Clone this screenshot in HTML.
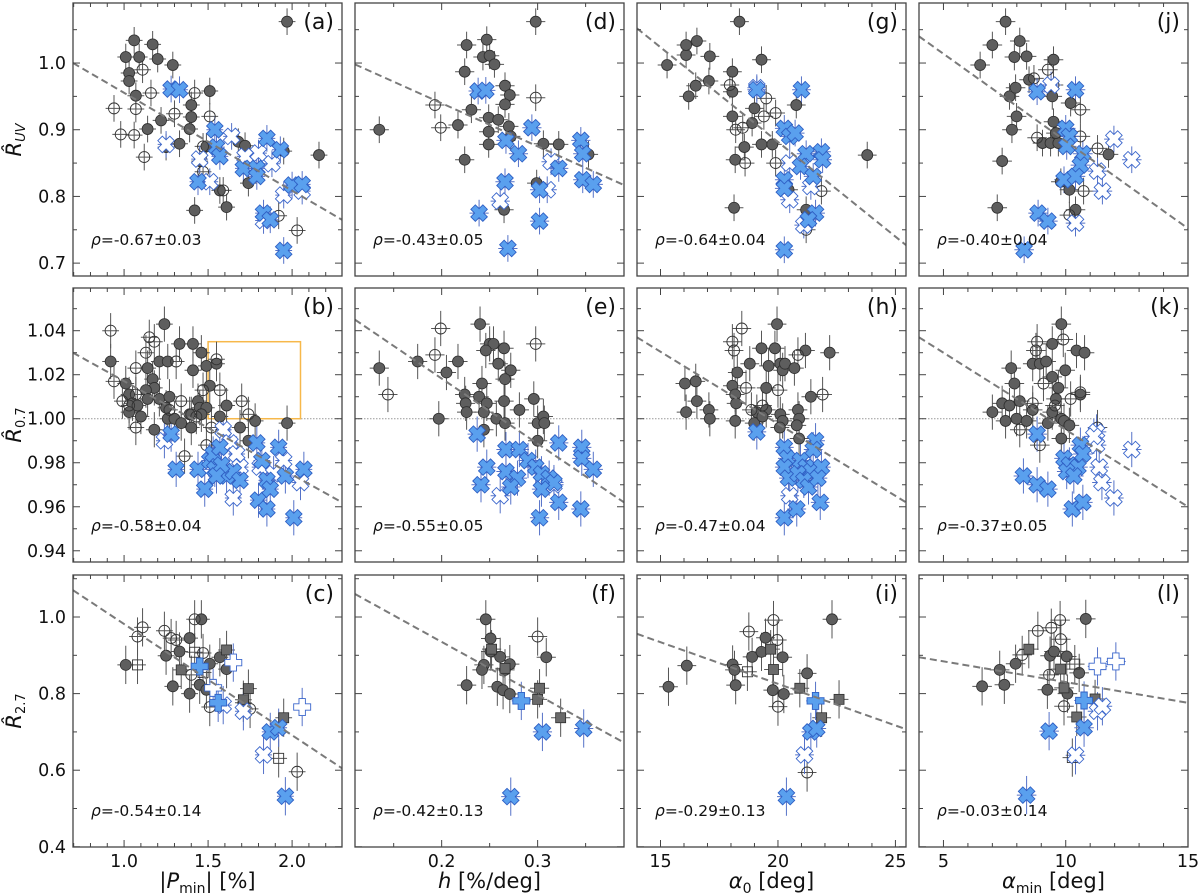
<!DOCTYPE html>
<html><head><meta charset="utf-8"><style>
html,body{margin:0;padding:0;background:#fff;}
svg{display:block;font-family:"DejaVu Sans","Liberation Sans",sans-serif;}
</style></head><body>
<svg id="fig" width="1200" height="894" viewBox="0 0 1200 894" xmlns="http://www.w3.org/2000/svg"></svg>
<script>
// ---------- data ----------
const ptsA=[[1.97,1.062,'gc'],[1.06,1.034,'gc'],[1.17,1.028,'gc'],[1.01,1.009,'gc'],[1.09,1.009,'gc'],[1.20,1.006,'gc'],[1.29,0.997,'gc'],[1.03,0.985,'gc'],[1.03,0.973,'gc'],[1.51,0.958,'gc'],[1.07,0.951,'gc'],[1.14,0.901,'gc'],[1.22,0.914,'gc'],[1.25,0.874,'gc'],[1.33,0.879,'gc'],[1.39,0.901,'gc'],[1.40,0.919,'gc'],[1.49,0.875,'gc'],[1.45,0.853,'gc'],[1.57,0.809,'gc'],[1.61,0.784,'gc'],[1.42,0.779,'gc'],[1.68,0.882,'gc'],[1.72,0.876,'gc'],[1.74,0.82,'gc'],[1.95,0.868,'gc'],[2.16,0.862,'gc'],[1.40,0.937,'gc'],
[0.94,0.932,'oc'],[0.98,0.893,'oc'],[1.06,0.892,'oc'],[1.12,0.859,'oc'],[1.11,0.990,'oc'],[1.07,0.931,'oc'],[1.16,0.955,'oc'],[1.30,0.924,'oc'],[1.42,0.955,'oc'],[1.51,0.920,'oc'],[1.47,0.875,'oc'],[1.92,0.771,'oc'],[2.03,0.749,'oc'],[1.47,0.837,'oc'],[1.59,0.809,'oc'],
[1.25,0.878,'ox'],[1.45,0.856,'ox'],[1.51,0.822,'ox'],[1.64,0.89,'ox'],[1.72,0.860,'ox'],[1.80,0.865,'ox'],[1.88,0.849,'ox'],[1.95,0.802,'ox'],[1.83,0.764,'ox'],[2.06,0.808,'ox'],
[1.28,0.961,'bx'],[1.33,0.96,'bx'],[1.54,0.900,'bx'],[1.55,0.874,'bx'],[1.57,0.86,'bx'],[1.44,0.822,'bx'],[1.85,0.887,'bx'],[1.93,0.870,'bx'],[1.71,0.842,'bx'],[1.79,0.842,'bx'],[1.79,0.83,'bx'],[1.83,0.775,'bx'],[1.87,0.765,'bx'],[1.95,0.719,'bx'],[2.0,0.817,'bx'],[2.06,0.818,'bx']];
const ptsD=[[0.135,0.90,'gc'],[0.298,1.062,'gc'],[0.226,1.027,'gc'],[0.247,1.035,'gc'],[0.243,1.009,'gc'],[0.25,1.011,'gc'],[0.255,0.998,'gc'],[0.224,0.987,'gc'],[0.266,0.966,'gc'],[0.271,0.952,'gc'],[0.266,0.938,'gc'],[0.231,0.93,'gc'],[0.217,0.907,'gc'],[0.249,0.918,'gc'],[0.259,0.915,'gc'],[0.27,0.905,'gc'],[0.272,0.89,'gc'],[0.249,0.897,'gc'],[0.249,0.878,'gc'],[0.224,0.855,'gc'],[0.306,0.879,'gc'],[0.322,0.878,'gc'],[0.353,0.863,'gc'],[0.299,0.82,'gc'],[0.265,0.78,'gc'],
[0.193,0.937,'oc'],[0.199,0.903,'oc'],[0.298,0.948,'oc'],
[0.314,0.852,'ox'],[0.261,0.793,'ox'],[0.31,0.81,'ox'],
[0.238,0.958,'bx'],[0.246,0.959,'bx'],[0.294,0.903,'bx'],[0.267,0.884,'bx'],[0.28,0.864,'bx'],[0.345,0.884,'bx'],[0.347,0.864,'bx'],[0.322,0.842,'bx'],[0.347,0.825,'bx'],[0.358,0.818,'bx'],[0.266,0.822,'bx'],[0.302,0.81,'bx'],[0.239,0.775,'bx'],[0.302,0.763,'bx'],[0.269,0.722,'bx']];
const ptsG=[[15.28,0.997,'gc'],[16.09,1.012,'gc'],[16.09,1.027,'gc'],[16.55,1.033,'gc'],[17.1,1.01,'gc'],[18.36,1.062,'gc'],[16.5,0.966,'gc'],[17.06,0.973,'gc'],[16.2,0.95,'gc'],[18.06,0.987,'gc'],[18.06,0.957,'gc'],[19.3,1.005,'gc'],[18.06,0.92,'gc'],[18.9,0.91,'gc'],[19.0,0.932,'gc'],[20.78,0.937,'gc'],[18.57,0.874,'gc'],[18.18,0.855,'gc'],[19.3,0.878,'gc'],[19.76,0.878,'gc'],[18.13,0.783,'gc'],[23.8,0.862,'gc'],[21.2,0.78,'gc'],[20.45,0.81,'gc'],
[18.2,0.9,'oc'],[18.5,0.903,'oc'],[19.4,0.92,'oc'],[19.5,0.947,'oc'],[19.9,0.925,'oc'],[19.9,0.85,'oc'],[18.6,0.85,'oc'],[21.85,0.808,'oc'],[21.2,0.75,'oc'],[17.95,0.967,'oc'],
[19.1,0.963,'ox'],[20.5,0.795,'ox'],[21.1,0.757,'ox'],[21.4,0.815,'ox'],[20.5,0.85,'ox'],
[19.1,0.96,'bx'],[21.0,0.96,'bx'],[20.27,0.902,'bx'],[20.5,0.89,'bx'],[20.73,0.895,'bx'],[21.2,0.864,'bx'],[21.85,0.867,'bx'],[21.9,0.855,'bx'],[20.96,0.845,'bx'],[20.27,0.825,'bx'],[20.27,0.812,'bx'],[21.5,0.83,'bx'],[21.6,0.775,'bx'],[21.3,0.765,'bx'],[20.27,0.72,'bx']];
const ptsJ=[[6.5,0.997,'gc'],[7.0,1.027,'gc'],[7.54,1.062,'gc'],[8.12,1.033,'gc'],[7.9,1.009,'gc'],[8.4,1.01,'gc'],[9.5,1.005,'gc'],[7.4,0.853,'gc'],[7.8,0.9,'gc'],[7.2,0.783,'gc'],[7.7,0.95,'gc'],[7.95,0.963,'gc'],[8.5,0.975,'gc'],[7.99,0.92,'gc'],[9.45,0.95,'gc'],[10.2,0.94,'gc'],[9.05,0.88,'gc'],[9.38,0.88,'gc'],[9.7,0.88,'gc'],[9.5,0.912,'gc'],[9.6,0.895,'gc'],[10.15,0.81,'gc'],[10.4,0.78,'gc'],[11.75,0.863,'gc'],[9.8,0.822,'gc'],
[9.27,0.99,'oc'],[9.5,0.967,'oc'],[8.7,0.977,'oc'],[10.6,0.93,'oc'],[8.83,0.888,'oc'],[10.73,0.808,'oc'],[10.15,0.772,'oc'],[10.6,0.89,'oc'],[11.3,0.872,'oc'],
[11.97,0.886,'ox'],[12.7,0.855,'ox'],[11.3,0.838,'ox'],[11.5,0.808,'ox'],[10.4,0.76,'ox'],[9.4,0.967,'ox'],
[8.83,0.957,'bx'],[10.4,0.96,'bx'],[10.0,0.902,'bx'],[10.15,0.89,'bx'],[10.04,0.875,'bx'],[10.7,0.864,'bx'],[10.6,0.847,'bx'],[9.93,0.825,'bx'],[10.4,0.83,'bx'],[8.87,0.775,'bx'],[9.27,0.763,'bx'],[8.3,0.72,'bx']];
const ptsB=[[0.92,1.026,'gc'],[1.01,1.016,'gc'],[1.03,1.011,'gc'],[1.05,1.007,'gc'],[1.03,1.003,'gc'],[1.08,1.006,'gc'],[1.1,1.001,'gc'],[1.14,1.023,'gc'],[1.17,1.018,'gc'],[1.18,1.014,'gc'],[1.21,1.026,'gc'],[1.26,1.026,'gc'],[1.24,1.043,'gc'],[1.21,1.009,'gc'],[1.27,1.01,'gc'],[1.25,1.005,'gc'],[1.18,0.995,'gc'],[1.26,1.0,'gc'],[1.3,1.0,'gc'],[1.33,1.034,'gc'],[1.34,0.998,'gc'],[1.41,1.034,'gc'],[1.41,1.022,'gc'],[1.46,1.03,'gc'],[1.39,1.002,'gc'],[1.40,0.996,'gc'],[1.44,1.008,'gc'],[1.45,1.005,'gc'],[1.49,1.024,'gc'],[1.51,1.015,'gc'],[1.55,1.025,'gc'],[1.57,1.001,'gc'],[1.61,1.006,'gc'],[1.69,0.996,'gc'],[1.78,0.999,'gc'],[1.74,0.99,'gc'],[1.97,0.998,'gc'],[1.49,1.005,'gc'],[1.46,1.002,'gc'],[1.13,1.013,'gc'],[1.14,1.009,'gc'],
[0.92,1.04,'oc'],[0.94,1.017,'oc'],[0.99,1.008,'oc'],[1.03,1.006,'oc'],[1.07,0.996,'oc'],[1.07,1.011,'oc'],[1.07,1.023,'oc'],[1.13,1.03,'oc'],[1.15,1.037,'oc'],[1.18,1.035,'oc'],[1.31,1.026,'oc'],[1.34,1.008,'oc'],[1.27,1.004,'oc'],[1.40,1.002,'oc'],[1.43,1.001,'oc'],[1.47,1.013,'oc'],[1.49,0.988,'oc'],[1.36,0.983,'oc'],[1.55,1.027,'oc'],[1.52,0.996,'oc'],[1.70,1.008,'oc'],[1.74,1.002,'oc'],[1.57,1.013,'oc'],
[1.24,0.99,'ox'],[1.59,0.995,'ox'],[1.63,0.989,'ox'],[1.67,0.984,'ox'],[1.69,0.978,'ox'],[1.65,0.964,'ox'],[1.81,0.978,'ox'],[1.95,0.981,'ox'],[2.05,0.971,'ox'],[1.89,0.975,'ox'],
[1.28,0.993,'bx'],[1.31,0.977,'bx'],[1.44,0.977,'bx'],[1.48,0.968,'bx'],[1.51,0.981,'bx'],[1.53,0.984,'bx'],[1.54,0.977,'bx'],[1.57,0.987,'bx'],[1.61,0.974,'bx'],[1.65,0.976,'bx'],[1.69,0.972,'bx'],[1.58,0.979,'bx'],[1.55,0.974,'bx'],[1.79,0.989,'bx'],[1.82,0.981,'bx'],[1.85,0.972,'bx'],[1.92,0.987,'bx'],[1.96,0.974,'bx'],[2.07,0.977,'bx'],[1.80,0.963,'bx'],[1.85,0.959,'bx'],[1.87,0.968,'bx'],[2.01,0.955,'bx']];
const ptsE=[[0.135,1.023,'gc'],[0.175,1.026,'gc'],[0.205,1.021,'gc'],[0.217,1.026,'gc'],[0.24,1.043,'gc'],[0.25,1.034,'gc'],[0.254,1.034,'gc'],[0.246,1.031,'gc'],[0.265,1.032,'gc'],[0.259,1.025,'gc'],[0.272,1.022,'gc'],[0.266,1.018,'gc'],[0.242,1.016,'gc'],[0.224,1.011,'gc'],[0.225,1.007,'gc'],[0.226,1.003,'gc'],[0.239,1.01,'gc'],[0.247,1.007,'gc'],[0.244,1.003,'gc'],[0.265,1.008,'gc'],[0.281,1.004,'gc'],[0.296,1.009,'gc'],[0.257,1.0,'gc'],[0.266,0.998,'gc'],[0.197,1.0,'gc'],[0.244,0.995,'gc'],[0.3,0.998,'gc'],[0.306,1.001,'gc'],[0.307,0.998,'gc'],[0.3,0.99,'gc'],
[0.144,1.011,'oc'],[0.193,1.029,'oc'],[0.199,1.041,'oc'],[0.298,1.034,'oc'],
[0.261,0.965,'ox'],[0.317,0.97,'ox'],
[0.237,0.993,'bx'],[0.267,0.986,'bx'],[0.281,0.986,'bx'],[0.322,0.989,'bx'],[0.346,0.987,'bx'],[0.346,0.982,'bx'],[0.247,0.978,'bx'],[0.358,0.977,'bx'],[0.267,0.976,'bx'],[0.279,0.973,'bx'],[0.29,0.981,'bx'],[0.298,0.978,'bx'],[0.304,0.975,'bx'],[0.312,0.973,'bx'],[0.317,0.971,'bx'],[0.241,0.97,'bx'],[0.272,0.969,'bx'],[0.304,0.968,'bx'],[0.322,0.962,'bx'],[0.345,0.959,'bx'],[0.302,0.955,'bx']];
const ptsH=[[16.04,1.016,'gc'],[16.09,1.003,'gc'],[16.55,1.008,'gc'],[16.5,1.017,'gc'],[17.06,1.004,'gc'],[17.1,1.0,'gc'],[18.06,1.015,'gc'],[18.18,1.011,'gc'],[18.22,1.007,'gc'],[18.18,0.999,'gc'],[18.27,1.021,'gc'],[18.8,1.025,'gc'],[19.3,1.032,'gc'],[19.87,1.032,'gc'],[19.96,1.043,'gc'],[19.6,1.024,'gc'],[20.1,1.025,'gc'],[20.2,1.022,'gc'],[20.3,1.025,'gc'],[20.7,1.023,'gc'],[21.17,1.031,'gc'],[22.2,1.030,'gc'],[19.5,1.014,'gc'],[19.1,1.003,'gc'],[19.5,1.004,'gc'],[18.99,0.998,'gc'],[19.34,1.001,'gc'],[20.1,1.002,'gc'],[20.2,0.999,'gc'],[20.08,0.996,'gc'],[20.85,1.004,'gc'],[20.9,1.0,'gc'],[20.8,0.997,'gc'],[20.9,0.991,'gc'],[21.4,1.01,'gc'],
[18.46,1.041,'oc'],[18.06,1.035,'oc'],[18.13,1.031,'oc'],[18.64,1.014,'oc'],[19.34,1.006,'oc'],[20.0,1.013,'oc'],[20.85,1.029,'oc'],[21.9,1.011,'oc'],[18.87,1.004,'oc'],
[20.5,0.965,'ox'],
[19.1,0.994,'bx'],[20.27,0.987,'bx'],[20.4,0.982,'bx'],[20.27,0.978,'bx'],[20.45,0.973,'bx'],[20.27,0.955,'bx'],[21.6,0.99,'bx'],[21.5,0.986,'bx'],[20.96,0.981,'bx'],[21.2,0.978,'bx'],[21.4,0.976,'bx'],[21.85,0.978,'bx'],[20.85,0.975,'bx'],[21.1,0.972,'bx'],[21.3,0.969,'bx'],[21.7,0.973,'bx'],[20.8,0.959,'bx'],[21.8,0.962,'bx']];
const ptsK=[[7.0,1.003,'gc'],[7.4,1.007,'gc'],[7.7,1.006,'gc'],[7.54,0.999,'gc'],[7.77,1.023,'gc'],[7.9,1.016,'gc'],[8.12,1.008,'gc'],[7.99,1.0,'gc'],[8.4,0.999,'gc'],[8.65,1.004,'gc'],[8.65,1.025,'gc'],[8.94,1.025,'gc'],[9.2,1.026,'gc'],[9.45,1.034,'gc'],[9.82,1.043,'gc'],[9.98,1.022,'gc'],[10.44,1.031,'gc'],[10.77,1.03,'gc'],[9.45,1.019,'gc'],[9.7,1.014,'gc'],[9.6,1.009,'gc'],[9.45,1.003,'gc'],[9.82,1.0,'gc'],[9.27,0.998,'gc'],[9.93,0.999,'gc'],[10.15,0.997,'gc'],[9.82,0.991,'gc'],[10.6,1.011,'gc'],
[8.83,1.035,'oc'],[8.78,1.031,'oc'],[9.9,1.036,'oc'],[9.09,1.016,'oc'],[8.65,1.007,'oc'],[9.56,1.006,'oc'],[10.2,1.009,'oc'],[10.6,1.012,'oc'],[8.12,0.995,'oc'],[8.94,0.988,'oc'],[11.3,0.996,'oc'],
[11.26,0.994,'ox'],[11.26,0.988,'ox'],[12.7,0.986,'ox'],[11.37,0.978,'ox'],[11.48,0.971,'ox'],[11.97,0.964,'ox'],[11.15,0.992,'ox'],
[8.83,0.993,'bx'],[8.27,0.974,'bx'],[8.83,0.97,'bx'],[9.27,0.968,'bx'],[9.93,0.982,'bx'],[10.15,0.979,'bx'],[10.5,0.978,'bx'],[10.04,0.976,'bx'],[10.33,0.974,'bx'],[10.6,0.988,'bx'],[10.7,0.984,'bx'],[10.27,0.959,'bx'],[10.7,0.962,'bx']];
const ptsC=[[1.01,0.875,'gc'],[1.25,0.899,'gc'],[1.29,0.819,'gc'],[1.33,0.91,'gc'],[1.39,0.945,'gc'],[1.39,0.80,'gc'],[1.46,0.994,'gc'],[1.45,0.823,'gc'],[1.49,0.81,'gc'],[1.51,0.878,'gc'],[1.57,0.895,'gc'],[1.61,0.864,'gc'],
[1.08,0.949,'oc'],[1.11,0.973,'oc'],[1.24,0.964,'oc'],[1.28,0.945,'oc'],[1.31,0.94,'oc'],[1.42,0.994,'oc'],[1.40,0.849,'oc'],[1.47,0.906,'oc'],[1.51,0.765,'oc'],[1.71,0.776,'oc'],[1.75,0.76,'oc'],[2.03,0.596,'oc'],
[1.34,0.862,'gs'],[1.61,0.914,'gs'],[1.74,0.813,'gs'],[1.71,0.784,'gs'],[1.95,0.737,'gs'],
[1.08,0.875,'os'],[1.42,0.908,'os'],[1.47,0.855,'os'],[1.92,0.631,'os'],
[1.65,0.881,'op'],[2.06,0.765,'op'],[1.53,0.815,'op'],
[1.59,0.77,'ox'],[1.71,0.754,'ox'],[1.83,0.64,'ox'],
[1.56,0.776,'bp'],[1.45,0.871,'bp'],
[1.87,0.70,'bx'],[1.92,0.711,'bx'],[1.96,0.532,'bx']];
const ptsF=[[0.246,0.994,'gc'],[0.251,0.944,'gc'],[0.251,0.91,'gc'],[0.261,0.896,'gc'],[0.271,0.877,'gc'],[0.244,0.875,'gc'],[0.242,0.862,'gc'],[0.226,0.822,'gc'],[0.258,0.818,'gc'],[0.264,0.809,'gc'],[0.271,0.799,'gc'],[0.309,0.895,'gc'],[0.266,0.862,'gc'],
[0.3,0.949,'oc'],
[0.252,0.916,'gs'],[0.266,0.866,'gs'],[0.302,0.814,'gs'],[0.3,0.785,'gs'],[0.324,0.737,'gs'],
[0.283,0.781,'bp'],
[0.305,0.70,'bx'],[0.348,0.709,'bx'],[0.272,0.531,'bx']];
const ptsI=[[15.34,0.818,'gc'],[16.12,0.873,'gc'],[18.07,0.876,'gc'],[18.15,0.862,'gc'],[18.2,0.822,'gc'],[18.9,0.896,'gc'],[19.3,0.909,'gc'],[19.47,0.946,'gc'],[20.2,0.895,'gc'],[19.78,0.809,'gc'],[20.25,0.799,'gc'],[21.24,0.853,'gc'],[22.3,0.994,'gc'],
[18.76,0.962,'oc'],[19.81,0.992,'oc'],[19.97,0.94,'oc'],[20.0,0.766,'oc'],[21.24,0.594,'oc'],
[19.69,0.916,'gs'],[19.81,0.863,'gs'],[20.93,0.814,'gs'],[22.6,0.785,'gs'],[21.86,0.737,'gs'],
[18.7,0.857,'os'],
[21.13,0.64,'ox'],
[21.6,0.781,'bp'],
[21.4,0.70,'bx'],[21.65,0.709,'bx'],[20.36,0.531,'bx']];
const ptsL=[[6.58,0.819,'gc'],[7.3,0.862,'gc'],[7.49,0.823,'gc'],[7.95,0.878,'gc'],[9.25,0.81,'gc'],[9.36,0.899,'gc'],[9.52,0.91,'gc'],[10.04,0.897,'gc'],[10.55,0.854,'gc'],[10.82,0.995,'gc'],[10.07,0.80,'gc'],
[8.86,0.964,'oc'],[9.41,0.972,'oc'],[8.22,0.901,'oc'],[9.77,0.992,'oc'],[9.8,0.942,'oc'],[9.32,0.849,'oc'],[9.93,0.767,'oc'],
[8.49,0.916,'gs'],[9.79,0.864,'gs'],[9.93,0.815,'gs'],[10.45,0.739,'gs'],[11.2,0.786,'gs'],
[10.37,0.877,'os'],[10.27,0.633,'os'],
[11.3,0.754,'ox'],[11.5,0.767,'ox'],[10.4,0.639,'ox'],
[11.3,0.871,'op'],[12.05,0.884,'op'],
[10.75,0.782,'bp'],
[9.32,0.702,'bx'],[10.75,0.711,'bx'],[8.4,0.535,'bx']];
// fit lines: value at left and right x-domain edge
const fitA=[1.0,0.765], fitB=[1.030,0.962], fitC=[1.07,0.605];
const fitD=[0.998,0.817], fitE=[1.045,0.962], fitF=[1.06,0.672];
const fitG=[1.052,0.727], fitH=[1.037,0.962], fitI=[0.956,0.707];
const fitJ=[1.04,0.752], fitK=[1.037,0.960], fitL=[0.895,0.776];
const rhoLabels=[["-0.67±0.03","-0.58±0.04","-0.54±0.14"],["-0.43±0.05","-0.55±0.05","-0.42±0.13"],["-0.64±0.04","-0.47±0.04","-0.29±0.13"],["-0.40±0.04","-0.37±0.05","-0.03±0.14"]];
const letters=[["(a)","(b)","(c)"],["(d)","(e)","(f)"],["(g)","(h)","(i)"],["(j)","(k)","(l)"]];
const rowYMajor=[[0.7,0.8,0.9,1.0],[0.94,0.96,0.98,1.00,1.02,1.04],[0.4,0.6,0.8,1.0]];
const rowYLabels=[["0.7","0.8","0.9","1.0"],["0.94","0.96","0.98","1.00","1.02","1.04"],["0.4","0.6","0.8","1.0"]];
const colXMajor=[[1.0,1.5,2.0],[0.2,0.3],[15,20,25],[5,10,15]];
const colXLabels=[["1.0","1.5","2.0"],["0.2","0.3"],["15","20","25"],["5","10","15"]];

// ---------- layout ----------
const NS="http://www.w3.org/2000/svg";
const svg=document.getElementById('fig');
const colL=[73,355,637,919], PW=269;
const rowT=[3,288,575], rowB=[276,562,847];
const xDom=[[0.696,2.297],[0.1097,0.39],[14.0,25.45],[4.0,15.0]];
const yDom=[[0.6807,1.09],[0.9349,1.0594],[0.3995,1.1097]];
const yMinorStep=[0.05,0.01,0.1], xMinorStep=[0.1,0.05,1,1];
const xErr=[0.05,0.01,0.4,0.4], yErr=[0.02,0.008,0.05];
const panels=[[ptsA,ptsB,ptsC],[ptsD,ptsE,ptsF],[ptsG,ptsH,ptsI],[ptsJ,ptsK,ptsL]];
const fits=[[fitA,fitB,fitC],[fitD,fitE,fitF],[fitG,fitH,fitI],[fitJ,fitK,fitL]];

function el(tag,attrs,parent){const e=document.createElementNS(NS,tag);for(const k in attrs)e.setAttribute(k,attrs[k]);(parent||svg).appendChild(e);return e;}
function plusPts(cx,cy,L,w,rot){
  const base=[[-w,-L],[w,-L],[w,-w],[L,-w],[L,w],[w,w],[w,L],[-w,L],[-w,w],[-L,w],[-L,-w],[-w,-w]];
  const c=Math.cos(rot),s=Math.sin(rot);
  return base.map(p=>(cx+p[0]*c-p[1]*s).toFixed(2)+','+(cy+p[0]*s+p[1]*c).toFixed(2)).join(' ');
}
const order={gc:0,oc:0,gs:0,os:0,ox:1,op:1,bx:2,bp:2};

for(let c=0;c<4;c++){for(let r=0;r<3;r++){
  const L=colL[c],R=L+PW,T=rowT[r],B=rowB[r];
  const xs=v=>L+(v-xDom[c][0])/(xDom[c][1]-xDom[c][0])*PW;
  const ys=v=>B-(v-yDom[r][0])/(yDom[r][1]-yDom[r][0])*(B-T);
  const g=el('g',{});
  
  
  const clipId='clip'+c+r;
  const cp=el('clipPath',{id:clipId},g);el('rect',{x:L,y:T,width:PW,height:B-T},cp);
  const inner=el('g',{'clip-path':'url(#'+clipId+')'},g);
  if(r===1){const ln=el('line',{x1:L,x2:R,y1:ys(1.0),y2:ys(1.0),stroke:'#999','stroke-width':1,'stroke-dasharray':'1.5,1.5'},inner);
    }
  if(c===0&&r===1){const bx=el('rect',{x:xs(1.5),y:ys(1.035),width:xs(2.05)-xs(1.5),height:ys(1.0)-ys(1.035),fill:'none',stroke:'#f7b84a','stroke-width':1.5},inner);
    }
  const pts=panels[c][r].slice().sort((a,b)=>order[a[2]]-order[b[2]]);
  const xe=xErr[c], ye=yErr[r];
  pts.forEach(p=>{const blue=order[p[2]]>0;const col=blue?'#5572c8':'#555';
    el('line',{x1:xs(p[0]-xe),x2:xs(p[0]+xe),y1:ys(p[1]),y2:ys(p[1]),stroke:col,'stroke-width':1},inner);
    el('line',{x1:xs(p[0]),x2:xs(p[0]),y1:ys(p[1]-ye),y2:ys(p[1]+ye),stroke:col,'stroke-width':1},inner);});
  pts.forEach(p=>{const cx=xs(p[0]),cy=ys(p[1]),t=p[2];let m;
    if(t==='gc')m=el('circle',{cx,cy,r:5.5,fill:'#5e5e5e',stroke:'#2e2e2e','stroke-width':0.8},inner);
    else if(t==='oc')m=el('circle',{cx,cy,r:5.5,fill:'none',stroke:'#333','stroke-width':0.9},inner);
    else if(t==='gs')m=el('rect',{x:cx-5,y:cy-5,width:10,height:10,fill:'#6a6a6a',stroke:'#2e2e2e','stroke-width':0.8},inner);
    else if(t==='os')m=el('rect',{x:cx-5,y:cy-5,width:10,height:10,fill:'none',stroke:'#333','stroke-width':0.9},inner);
    else if(t==='bx')m=el('polygon',{points:plusPts(cx,cy,8.5,3.2,Math.PI/4),fill:'#5aa0ee',stroke:'#2f5fc4','stroke-width':0.9},inner);
    else if(t==='ox')m=el('polygon',{points:plusPts(cx,cy,8.5,3.2,Math.PI/4),fill:'#fff',stroke:'#3a66cc','stroke-width':0.9},inner);
    else if(t==='bp')m=el('polygon',{points:plusPts(cx,cy,8.5,3.2,0),fill:'#5aa0ee',stroke:'#2f5fc4','stroke-width':0.9},inner);
    else m=el('polygon',{points:plusPts(cx,cy,8.5,3.2,0),fill:'#fff',stroke:'#3a66cc','stroke-width':0.9},inner);
    
    });
  const f=fits[c][r];
  const fl=el('line',{x1:L,y1:ys(f[0]),x2:R,y2:ys(f[1]),stroke:'#7a7a7a','stroke-width':2,'stroke-dasharray':'7,4'},inner);
  
  
  const fr=el('rect',{x:L,y:T,width:PW,height:B-T,fill:'none',stroke:'#444','stroke-width':1.3},g);
  
  
  const ys0=yDom[r][0],ys1=yDom[r][1],st=yMinorStep[r];
  for(let k=Math.ceil(ys0/st-1e-6);k*st<=ys1+1e-9;k++){const v=k*st;const y=ys(v);
    const major=rowYMajor[r].some(m=>Math.abs(m-v)<1e-6);const len=major?7:4;
    el('line',{x1:L,x2:L+len,y1:y,y2:y,stroke:'#444','stroke-width':1},g);
    el('line',{x1:R,x2:R-len,y1:y,y2:y,stroke:'#444','stroke-width':1},g);}
  const xst=xMinorStep[c];
  for(let k=Math.ceil(xDom[c][0]/xst-1e-6);k*xst<=xDom[c][1]+1e-9;k++){const v=k*xst;const x=xs(v);
    const major=colXMajor[c].some(m=>Math.abs(m-v)<1e-6);const len=major?7:4;
    el('line',{x1:x,x2:x,y1:B,y2:B-len,stroke:'#444','stroke-width':1},g);
    el('line',{x1:x,x2:x,y1:T,y2:T+len,stroke:'#444','stroke-width':1},g);}
  if(c===0){rowYMajor[r].forEach((v,i)=>{const t=el('text',{x:L-7,y:ys(v)+6,'text-anchor':'end','font-size':17.5,fill:'#111'},g);t.textContent=rowYLabels[r][i];
    });}
  if(r===2){colXMajor[c].forEach((v,i)=>{const t=el('text',{x:xs(v),y:B+20,'text-anchor':'middle','font-size':17.5,fill:'#111'},g);t.textContent=colXLabels[c][i];
    });}
  const lt=el('text',{x:R-8,y:T+26,'text-anchor':'end','font-size':22,fill:'#111'},g);lt.textContent=letters[c][r];
  
  const rt=el('text',{x:L+18,y:B-31,'font-size':15.5,fill:'#111'},g);
  
  const rs=el('tspan',{'font-style':'italic'},rt);rs.textContent='ρ';
  const rv=el('tspan',{},rt);rv.textContent='='+rhoLabels[c][r];
}}
function ytitle(sub,cy){const t=el('text',{transform:'translate(21,'+cy+') rotate(-90)','text-anchor':'middle','font-size':21,fill:'#111'});
  
  const a=el('tspan',{'font-style':'italic'},t);a.textContent='R\u0302';
  const b=el('tspan',{'font-size':13,dy:4,'font-style':sub==='UV'?'italic':'normal'},t);b.textContent=sub;}
ytitle('UV',140);ytitle('0.7',425);ytitle('2.7',711);
const xt=[[207.5,'|','P','min','| [%]'],[489.5,'','h','','  [%/deg]'],[771.5,'','α','0',' [deg]'],[1053.5,'','α','min',' [deg]']];
xt.forEach(d=>{const t=el('text',{x:d[0],y:888,'text-anchor':'middle','font-size':21,fill:'#111'});
  
  if(d[1]){const s=el('tspan',{},t);s.textContent=d[1];}
  const a=el('tspan',{'font-style':'italic'},t);a.textContent=d[2];
  if(d[3]){const b=el('tspan',{'font-size':14,dy:5},t);b.textContent=d[3];const c2=el('tspan',{dy:-5},t);c2.textContent=d[4];}
  else{const c2=el('tspan',{},t);c2.textContent=d[4];}});
</script>
</body></html>
